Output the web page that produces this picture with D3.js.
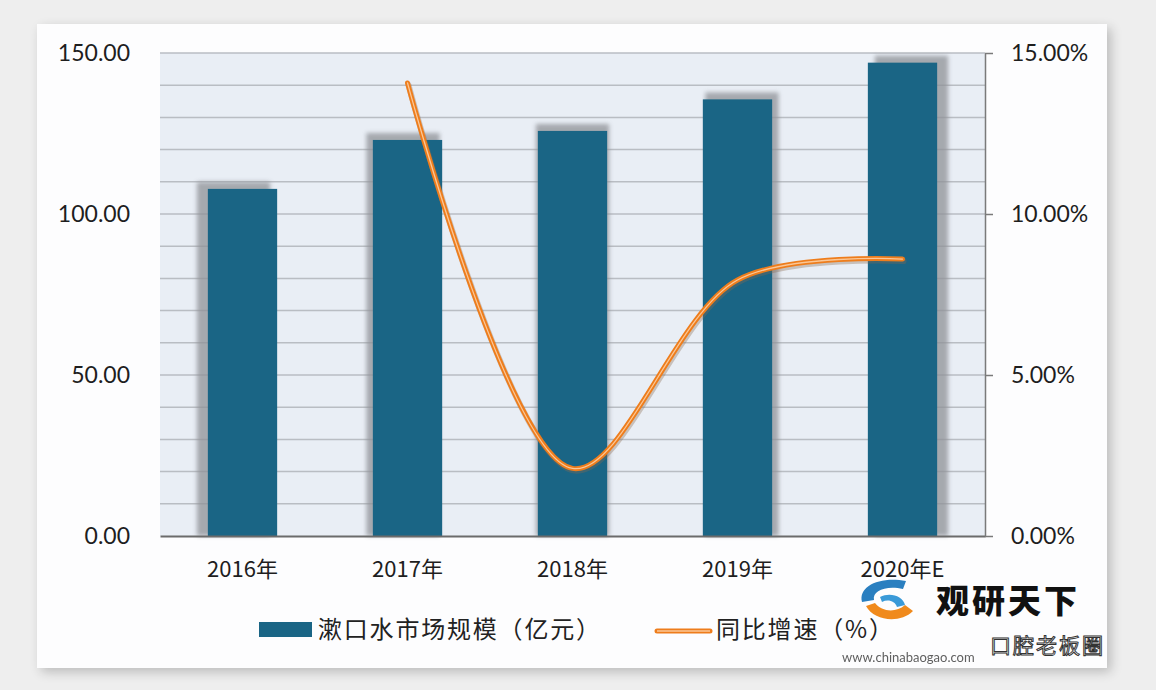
<!DOCTYPE html>
<html><head><meta charset="utf-8">
<script src="https://cdn.jsdelivr.net/npm/d3@7"></script>
<style>
html,body{margin:0;padding:0;background:#eeeeee;}
svg{display:block;}
</style></head>
<body>
<script>
const categories = ["2016年","2017年","2018年","2019年","2020年E"];
const marketSize = [107.8, 123.0, 125.8, 135.6, 147.0];
const growthYears = ["2017年","2018年","2019年","2020年E"];
const growthRate = [14.07, 2.1, 7.95, 8.6];
const leftTicks = [0, 50, 100, 150];
const rightTicks = [0, 5, 10, 15];
const legendLabels = ["漱口水市场规模（亿元）", "同比增速（%）"];

const W = 1156, H = 690;
const svg = d3.select("body").append("svg").attr("width", W).attr("height", H);
const defs = svg.append("defs");
const f1 = defs.append("filter").attr("id","panelShadow").attr("x","-5%").attr("y","-5%").attr("width","110%").attr("height","110%");
f1.append("feGaussianBlur").attr("in","SourceAlpha").attr("stdDeviation",6);
f1.append("feOffset").attr("dx",4).attr("dy",4).attr("result","b");
f1.append("feComponentTransfer").append("feFuncA").attr("type","linear").attr("slope",0.22);
const m1 = f1.append("feMerge"); m1.append("feMergeNode"); m1.append("feMergeNode").attr("in","SourceGraphic");
const f2 = defs.append("filter").attr("id","barShadow").attr("x","-20%").attr("y","-20%").attr("width","140%").attr("height","140%");
f2.append("feGaussianBlur").attr("stdDeviation",2.2);

// panel
svg.append("rect").attr("x",37).attr("y",24).attr("width",1070).attr("height",644)
  .attr("fill","#fdfdfe").attr("filter","url(#panelShadow)");

const m = {left:160, right:985, top:53, bottom:536};
const x = d3.scaleBand().domain(categories).range([m.left, m.right]).paddingInner(0.58).paddingOuter(0.29);
const y = d3.scaleLinear().domain([0,150]).range([m.bottom, m.top]);
const y2 = d3.scaleLinear().domain([0,15]).range([m.bottom, m.top]);

svg.append("rect").attr("x",m.left).attr("y",m.top).attr("width",m.right-m.left).attr("height",m.bottom-m.top).attr("fill","#e9eef5");

// gridlines every 10
svg.append("g").selectAll("line").data(d3.range(10,151,10)).join("line")
  .attr("x1",m.left).attr("x2",m.right).attr("y1",d=>y(d)).attr("y2",d=>y(d))
  .attr("stroke","#b9bdc3").attr("stroke-width",1.5);

// bar shadows
svg.append("g").selectAll("rect").data(marketSize).join("rect")
  .attr("x",(d,i)=>x(categories[i]) + (i-2)*4.5 - 2)
  .attr("y",d=>y(d)-7)
  .attr("width",x.bandwidth()+4)
  .attr("height",d=>m.bottom-y(d)+7)
  .attr("fill","#8f9297").attr("opacity",0.75).attr("filter","url(#barShadow)");

// bars
svg.append("g").selectAll("rect").data(marketSize).join("rect")
  .attr("x",(d,i)=>x(categories[i])).attr("y",d=>y(d))
  .attr("width",x.bandwidth()).attr("height",d=>m.bottom-y(d))
  .attr("fill","#1a6585");

// axes
const font = "Lato, 'Noto Sans', 'Noto Sans CJK SC', sans-serif";
const ax = svg.append("g").attr("transform",`translate(0,${m.bottom})`)
  .call(d3.axisBottom(x).tickSize(0).tickPadding(25));
ax.select(".domain").attr("stroke","#6b6b6b").attr("stroke-width",2);
ax.selectAll("text").attr("font-family","'Noto Sans CJK SC', sans-serif").attr("font-size",22).attr("fill","#1e1e1e");

const ay = svg.append("g").attr("transform",`translate(${m.left},0)`)
  .call(d3.axisLeft(y).tickValues(leftTicks).tickFormat(d3.format(".2f")).tickSize(0).tickPadding(30));
ay.select(".domain").remove();
ay.selectAll("text").attr("font-family",font).attr("font-size",23).attr("fill","#1e1e1e");

const ar = svg.append("g").attr("transform",`translate(${m.right},0)`)
  .call(d3.axisRight(y2).tickValues(rightTicks).tickFormat(d=>d3.format(".2f")(d)+"%").tickSize(8).tickSizeOuter(0).tickPadding(18));
ar.select(".domain").attr("stroke","#7a7a7a").attr("stroke-width",1.5);
ar.selectAll(".tick line").attr("stroke","#7a7a7a").attr("stroke-width",1.5);
ar.selectAll("text").attr("font-family",font).attr("font-size",23).attr("fill","#1e1e1e");

// growth line
const line = d3.line().x((d,i)=>x(growthYears[i])+x.bandwidth()/2).y(d=>y2(d)).curve(d3.curveCatmullRom.alpha(0.5));
svg.append("path").datum(growthRate).attr("d",line).attr("fill","none")
  .attr("stroke","#8a6a50").attr("stroke-opacity",0.35).attr("stroke-width",6).attr("stroke-linecap","round")
  .attr("transform","translate(1,2)");
svg.append("path").datum(growthRate).attr("d",line).attr("fill","none")
  .attr("stroke","#ee7d1c").attr("stroke-width",5).attr("stroke-linecap","round");
svg.append("path").datum(growthRate).attr("d",line).attr("fill","none")
  .attr("stroke","#fbc796").attr("stroke-width",1.3).attr("stroke-linecap","round");

// legend
const lg = svg.append("g");
lg.append("rect").attr("x",259).attr("y",622).attr("width",53).attr("height",15).attr("fill","#1a6585");
lg.append("text").attr("x",318).attr("y",638).text(legendLabels[0])
  .attr("font-family","'Noto Sans CJK SC', sans-serif").attr("font-size",24).attr("letter-spacing",1.8).attr("fill","#222");
lg.append("line").attr("x1",657).attr("x2",710).attr("y1",631).attr("y2",631)
  .attr("stroke","#ee7d1c").attr("stroke-width",5).attr("stroke-linecap","round");
lg.append("line").attr("x1",657).attr("x2",710).attr("y1",631).attr("y2",631)
  .attr("stroke","#fbc796").attr("stroke-width",1.3);
lg.append("text").attr("x",716).attr("y",638).text(legendLabels[1])
  .attr("font-family","'Noto Sans CJK SC', sans-serif").attr("font-size",24).attr("letter-spacing",1.8).attr("fill","#222");

// watermark (观研天下)
const wm = svg.append("g");
wm.append("path").attr("d","M862,602 C858,586 880,576 906,581 L903,589 C886,585 872,591 874,600 Z").attr("fill","#2a7fc0");
wm.append("path").attr("d","M866,606 C874,621 900,624 913,611 L905,605 C896,613 882,612 875,603 Z").attr("fill","#f08a1c");
wm.append("path").attr("d","M880,597 C890,592 903,596 905,605 L897,607 C895,601 888,599 882,602 Z").attr("fill","#3a9ad8");
wm.append("text").attr("x",936).attr("y",613).text("观研天下")
  .attr("font-family","'Noto Sans CJK SC', sans-serif").attr("font-weight",900).attr("font-size",33).attr("letter-spacing",3).attr("fill","#111");
wm.append("text").attr("x",842).attr("y",662).text("www.chinabaogao.com")
  .attr("font-family",font).attr("font-size",13).attr("fill","#444").attr("opacity",0.85);
wm.append("text").attr("x",990).attr("y",653).text("口腔老板圈")
  .attr("font-family","'Noto Sans CJK SC', sans-serif").attr("font-size",21).attr("fill","#fff")
  .attr("stroke","#333").attr("stroke-width",1).attr("letter-spacing",2);
</script>
</body></html>
